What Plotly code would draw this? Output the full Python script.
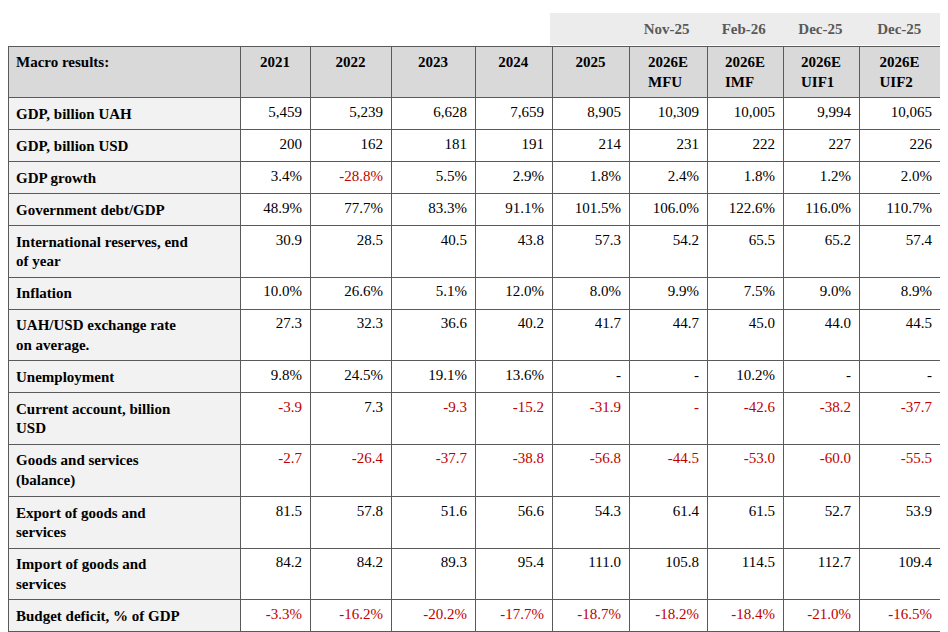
import plotly.graph_objects as go

indicators = [
    "GDP, billion UAH", "GDP, billion USD", "GDP growth", "Government debt/GDP",
    "International reserves, end<br>of year", "Inflation", "UAH/USD exchange rate<br>on average.",
    "Unemployment", "Current account, billion<br>USD", "Goods and services<br>(balance)",
    "Export of goods and<br>services", "Import of goods and<br>services", "Budget deficit, % of GDP",
]
columns = ["2021", "2022", "2023", "2024", "2025", "2026E<br>MFU", "2026E<br>IMF", "2026E<br>UIF1", "2026E<br>UIF2"]
forecast_dates = ["", "Nov-25", "Feb-26", "Dec-25", "Dec-25"]

values = {
    "2021": ["5,459", "200", "3.4%", "48.9%", "30.9", "10.0%", "27.3", "9.8%", "-3.9", "-2.7", "81.5", "84.2", "-3.3%"],
    "2022": ["5,239", "162", "-28.8%", "77.7%", "28.5", "26.6%", "32.3", "24.5%", "7.3", "-26.4", "57.8", "84.2", "-16.2%"],
    "2023": ["6,628", "181", "5.5%", "83.3%", "40.5", "5.1%", "36.6", "19.1%", "-9.3", "-37.7", "51.6", "89.3", "-20.2%"],
    "2024": ["7,659", "191", "2.9%", "91.1%", "43.8", "12.0%", "40.2", "13.6%", "-15.2", "-38.8", "56.6", "95.4", "-17.7%"],
    "2025": ["8,905", "214", "1.8%", "101.5%", "57.3", "8.0%", "41.7", "-", "-31.9", "-56.8", "54.3", "111.0", "-18.7%"],
    "MFU": ["10,309", "231", "2.4%", "106.0%", "54.2", "9.9%", "44.7", "-", "-", "-44.5", "61.4", "105.8", "-18.2%"],
    "IMF": ["10,005", "222", "1.8%", "122.6%", "65.5", "7.5%", "45.0", "10.2%", "-42.6", "-53.0", "61.5", "114.5", "-18.4%"],
    "UIF1": ["9,994", "227", "1.2%", "116.0%", "65.2", "9.0%", "44.0", "-", "-38.2", "-60.0", "52.7", "112.7", "-21.0%"],
    "UIF2": ["10,065", "226", "2.0%", "110.7%", "57.4", "8.9%", "44.5", "-", "-37.7", "-55.5", "53.9", "109.4", "-16.5%"],
}

# red for negatives, plus the dangling "-" in MFU current account
cols = list(values.values())
font_colors = [["black"] * len(indicators)]
for ci, col in enumerate(cols):
    c = []
    for ri, v in enumerate(col):
        neg = v.startswith("-") and v != "-"
        if neg or (ci == 5 and ri == 8):
            c.append("#c00000")
        else:
            c.append("black")
    font_colors.append(c)

widths = [232, 70, 81, 84, 77, 77, 78, 76, 76, 81]
W, H = 948, 632
font = "Liberation Serif"
line_col = "#5a5a5a"

fig = go.Figure()
fig.add_trace(go.Table(
    domain=dict(x=[0, 932 / W], y=[0, 1 - 38 / H]),
    columnwidth=widths,
    header=dict(
        values=["<b>Macro results:</b>"] + [f"<b>{c}</b>" for c in columns],
        align=["left"] + ["center"] * 9,
        fill_color="#d9d9d9",
        line=dict(color=line_col, width=1),
        font=dict(family=font, size=15, color="black"),
        height=48,
    ),
    cells=dict(
        values=[[f"<b>{s}</b>" for s in indicators]] + cols,
        align=["left"] + ["right"] * 9,
        fill_color=[["#f2f2f2"] * len(indicators)] + [["white"] * len(indicators)] * 9,
        line=dict(color=line_col, width=1),
        font=dict(family=font, size=15, color=font_colors),
        height=32,
    ),
))
fig.add_trace(go.Table(
    domain=dict(x=[542 / W, 932 / W], y=[1 - 38 / H, 1 - 5 / H]),
    columnwidth=widths[5:],
    header=dict(
        values=[f"<b>{d}</b>" for d in forecast_dates],
        align="center",
        fill_color="#ececec",
        line=dict(color="#ececec", width=1),
        font=dict(family=font, size=15, color="#595959"),
        height=33,
    ),
    cells=dict(values=[[] for _ in forecast_dates]),
))
fig.update_layout(width=W, height=H, margin=dict(l=0, r=0, t=0, b=0),
                  paper_bgcolor="white")
fig.write_html("out.html")
